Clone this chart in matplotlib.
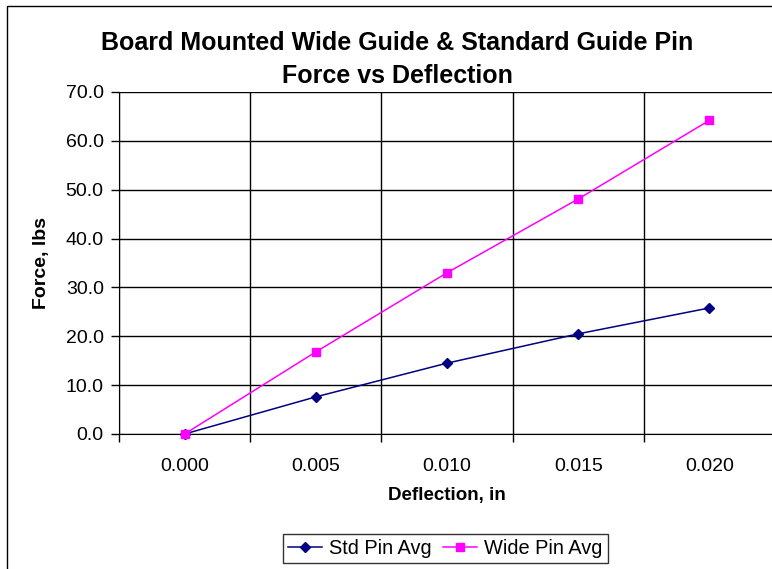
import matplotlib
matplotlib.use("Agg")
import matplotlib.pyplot as plt
from matplotlib.patches import Rectangle

categories = ["0.000", "0.005", "0.010", "0.015", "0.020"]
std_pin = [0.0, 7.6, 14.5, 20.5, 25.8]
wide_pin = [0.0, 16.8, 33.0, 48.1, 64.2]
yticks = [0, 10, 20, 30, 40, 50, 60, 70]

plt.rcParams['font.family'] = ['Liberation Sans', 'DejaVu Sans']

W, H = 772, 569
fig = plt.figure(figsize=(W / 100, H / 100), dpi=100)

# chart border (cropped on right/bottom)
fig.add_artist(Rectangle((6.5 / W, -0.1), 1.2, (1 - 6 / H) + 0.1, transform=fig.transFigure,
                         fill=False, edgecolor='black', linewidth=1.0))

left, right = 119 / W, 775 / W
bottom, top = 1 - 434 / H, 1 - 92 / H
ax = fig.add_axes([left, bottom, right - left, top - bottom])

x = list(range(len(categories)))
ax.plot(x, std_pin, color='#000080', marker='D', markersize=5.5, linewidth=1.1,
        label='Std Pin Avg', clip_on=False, zorder=3)
ax.plot(x, wide_pin, color='#FF00FF', marker='s', markersize=6, linewidth=1.1,
        label='Wide Pin Avg', clip_on=False, zorder=3)

ax.set_xlim(-0.5, len(categories) - 0.5)
ax.set_ylim(0, 70)
ax.set_yticks(yticks)
ax.set_yticklabels([f"{v:.1f}" for v in yticks])

# category tick marks at boundaries, labels at centres
ax.set_xticks([i - 0.5 for i in range(len(categories) + 1)])
ax.set_xticklabels([])
ax.set_xticks(x, minor=True)
ax.set_xticklabels(categories, minor=True)
ax.tick_params(axis='x', which='minor', length=0, pad=17, labelsize=14)
ax.tick_params(axis='x', which='major', length=6, width=1, color='black')
ax.tick_params(axis='y', length=6, width=1, labelsize=14, pad=5)

ax.grid(True, which='major', color='black', linewidth=1.0)
ax.set_axisbelow(True)
for s in ['top', 'right']:
    ax.spines[s].set_visible(False)
ax.spines['left'].set_color('black')
ax.spines['bottom'].set_color('black')

ax.set_xlabel('Deflection, in', fontsize=13.5, fontweight='bold', labelpad=9)
ax.set_ylabel('Force, lbs', fontsize=14, fontweight='bold', labelpad=11)

fig.text(397 / W, 1 - 50 / H, 'Board Mounted Wide Guide & Standard Guide Pin',
         ha='center', va='baseline', fontsize=18, fontweight='bold')
fig.text(397 / W, 1 - 83 / H, 'Force vs Deflection',
         ha='center', va='baseline', fontsize=18, fontweight='bold')

leg = fig.legend(loc='center', bbox_to_anchor=(445 / W, 1 - 548 / H), ncol=2,
                 fontsize=14.4, frameon=True, fancybox=False, edgecolor='black',
                 handlelength=1.7, columnspacing=0.6, handletextpad=0.35,
                 borderpad=0.25, borderaxespad=0)
leg.get_frame().set_linewidth(1.0)

fig.savefig('out.png', dpi=100)
